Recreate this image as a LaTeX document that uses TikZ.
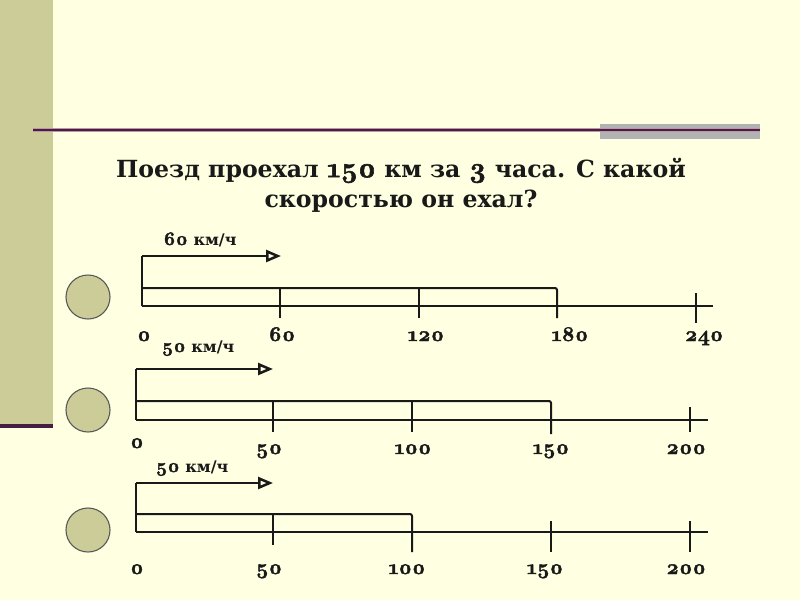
\documentclass[tikz,border=0pt]{standalone}
\usepackage{fontspec}
\setmainfont{DejaVu Serif}
\newfontfamily\lmo{Latin Modern Roman}[Numbers=OldStyle, FakeBold=2, Scale=1.2]
\usetikzlibrary{arrows.meta}
\definecolor{bgy}{RGB}{255,255,225}
\definecolor{olivefill}{RGB}{204,204,153}
\definecolor{plum}{RGB}{70,30,65}
\definecolor{plumhalo}{RGB}{190,150,165}
\definecolor{greybar}{RGB}{178,178,178}
\definecolor{ink}{RGB}{25,25,25}
\newcommand{\osn}[1]{{\lmo\bfseries #1}}
\begin{document}
\begin{tikzpicture}[x=1pt,y=-1pt,
  ax/.style={line width=2pt, draw=ink},
  arr/.style={line width=2pt, draw=ink, -{Triangle[open,length=15pt,width=12pt,line width=2.5pt]}},
  lbl/.style={font=\fontsize{17.5}{17.5}\selectfont, inner sep=0, anchor=base, text=ink},
  spd/.style={font=\bfseries\fontsize{16}{16}\selectfont, inner sep=0, anchor=base, text=ink},
  dot/.style={circle, fill=olivefill, draw=black!65, line width=1.1pt, minimum size=44pt, inner sep=0},
  ttl/.style={font=\bfseries\fontsize{23.6}{30}\selectfont, align=center, inner sep=0, text=ink}]
\useasboundingbox (0,0) rectangle (800,600);
\fill[bgy] (0,0) rectangle (800,600);
% left strip
\fill[olivefill] (0,0) rectangle (53,428);
\fill[plum] (0,424) rectangle (53,428);
% top rule
\fill[greybar] (600,124) rectangle (760,139);
\draw[plumhalo, line width=3.5pt] (33,130) -- (760,130);
\draw[plum, line width=1.6pt] (33,130) -- (760,130);
% title
\node[ttl] (title) at (401,185) {Поезд проехал \osn{150} км за \osn{3} часа. С какой\\скоростью он ехал?};

% ---- row 1 ----
\node[dot] (c1) at (88,297) {};
\coordinate (r1o) at (142,306);
\coordinate (r1a) at (142,256);
\coordinate (r1e) at (281,256);
\draw[ax] (r1o) -- (r1a);
\draw[arr] (r1a) -- (r1e);
\draw[ax, rounded corners=2pt] (142,288) -- (557,288) -- (557,318);
\draw[ax] (r1o) -- (713,306);
\draw[ax] (280,288) -- (280,318);
\draw[ax] (419,288) -- (419,318);
\draw[ax] (696,293) -- (696,323);
\node[spd] (s1) at (200,245) {\osn{60} км/ч};
\node[lbl] (l10) at (144,341) {\osn{0}};
\node[lbl] (l11) at (282,341) {\osn{60}};
\node[lbl] (l12) at (426,341) {\osn{120}};
\node[lbl] (l13) at (570,341) {\osn{180}};
\node[lbl] (l14) at (704,341) {\osn{240}};

% ---- row 2 ----
\node[dot] (c2) at (88,410) {};
\coordinate (r2o) at (136,420);
\coordinate (r2a) at (136,369);
\coordinate (r2e) at (273,369);
\draw[ax] (r2o) -- (r2a);
\draw[arr] (r2a) -- (r2e);
\draw[ax, rounded corners=2pt] (136,401) -- (551,401) -- (551,434);
\draw[ax] (r2o) -- (708,420);
\draw[ax] (273,401) -- (273,432);
\draw[ax] (412,401) -- (412,432);
\draw[ax] (690,407) -- (690,432);
\node[spd] (s2) at (198,352) {\osn{50} км/ч};
\node[lbl] (l20) at (137,448) {\osn{0}};
\node[lbl] (l21) at (269,454) {\osn{50}};
\node[lbl] (l22) at (413,454) {\osn{100}};
\node[lbl] (l23) at (551,454) {\osn{150}};
\node[lbl] (l24) at (686,454) {\osn{200}};

% ---- row 3 ----
\node[dot] (c3) at (88,530) {};
\coordinate (r3o) at (136,532);
\coordinate (r3a) at (136,483);
\coordinate (r3e) at (273,483);
\draw[ax] (r3o) -- (r3a);
\draw[arr] (r3a) -- (r3e);
\draw[ax, rounded corners=2pt] (136,514) -- (412,514) -- (412,552);
\draw[ax] (r3o) -- (708,532);
\draw[ax] (273,514) -- (273,545);
\draw[ax] (551,521) -- (551,552);
\draw[ax] (690,521) -- (690,552);
\node[spd] (s3) at (192,472) {\osn{50} км/ч};
\node[lbl] (l30) at (137,574) {\osn{0}};
\node[lbl] (l31) at (269,574) {\osn{50}};
\node[lbl] (l32) at (407,574) {\osn{100}};
\node[lbl] (l33) at (545,574) {\osn{150}};
\node[lbl] (l34) at (686,574) {\osn{200}};
\end{tikzpicture}
\end{document}
